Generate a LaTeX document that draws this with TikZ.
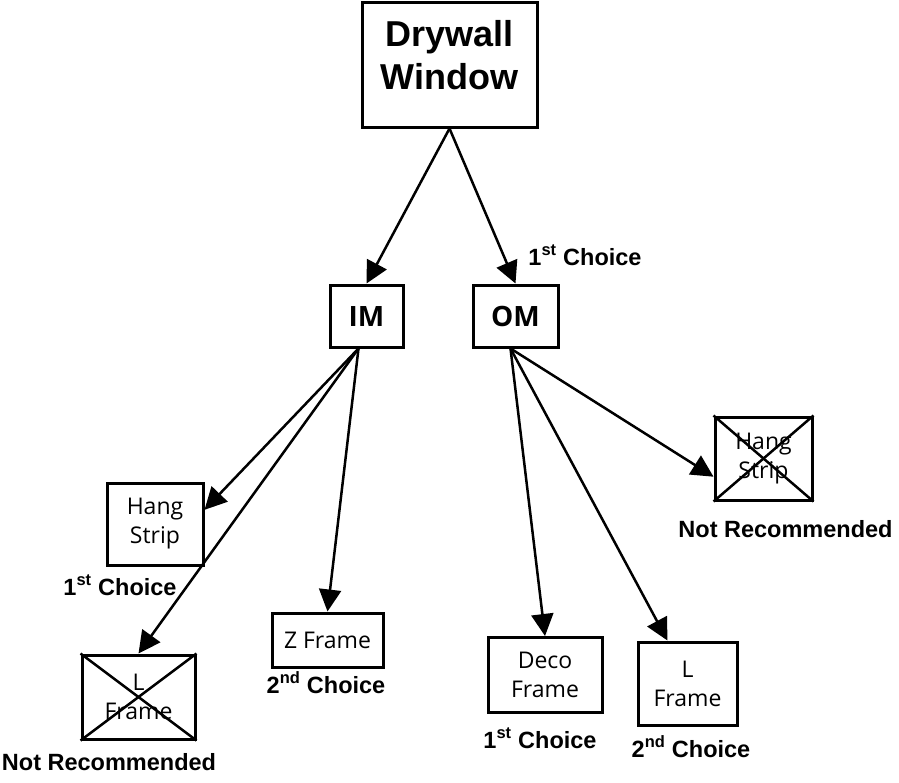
\documentclass[tikz,border=0pt]{standalone}
\usepackage{fontspec}
\newfontfamily\boxfont{Open Sans}
\newfontfamily\labelfont{Liberation Sans}
\usetikzlibrary{arrows.meta}
\tikzset{
  box/.style={draw, line width=3pt, align=center, inner sep=0pt,
    font=\boxfont\fontsize{23}{29}\selectfont},
  mainbox/.style={box, font=\labelfont\bfseries\fontsize{36}{43}\selectfont},
  modebox/.style={box, font=\boxfont\bfseries\fontsize{28}{32}\selectfont},
  choice/.style={anchor=base, font=\labelfont\bfseries\fontsize{23.5}{28}\selectfont},
  branch/.style={line width=2.5pt, -{Triangle[length=22pt,width=22pt]}},
  crossline/.style={line width=2.5pt}
}

\begin{document}
\begin{tikzpicture}[x=1pt,y=-1pt]
      \useasboundingbox (0,0) rectangle (899,782);
      % top of the tree
      \node[mainbox, minimum width=175pt, minimum height=125pt, text depth=20pt] (dw) at (449.5,64.5) {Drywall\\Window};
      \node[modebox, minimum width=73pt, minimum height=62pt] (im) at (366.5,316) {IM};
      \node[modebox, minimum width=85pt, minimum height=62pt] (om) at (515.5,316) {OM};
      % IM side
      \node[box, minimum width=96pt, minimum height=82pt] (hs) at (155,524) {Hang\\Strip};
      \node[box, minimum width=113pt, minimum height=84pt] (lf) at (138.5,697) {L\\Frame};
      \node[box, minimum width=111pt, minimum height=54pt] (zf) at (327.5,640) {Z Frame};
      % OM side
      \node[box, minimum width=114pt, minimum height=75pt] (df) at (545,675) {Deco\\Frame};
      \node[box, minimum width=99pt, minimum height=83pt] (lr) at (687.5,683.5) {L\\Frame};
      \node[box, minimum width=97pt, minimum height=83pt] (hr) at (763.5,458.5) {Hang\\Strip};
      % crossed out boxes
      \draw[crossline] (lf.north west) -- (lf.south east);
      \draw[crossline] (lf.north east) -- (lf.south west);
      \draw[crossline] (hr.north west) -- (hr.south east);
      \draw[crossline] (hr.north east) -- (hr.south west);
      % labels
      \node[choice] (omchoice) at (585,265) {1\textsuperscript{st} Choice};
      \node[choice] (hschoice) at (120,595) {1\textsuperscript{st} Choice};
      \node[choice] (zfchoice) at (326,693) {2\textsuperscript{nd} Choice};
      \node[choice] (lfnot) at (109,770) {Not Recommended};
      \node[choice] (hrnot) at (785.5,537) {Not Recommended};
      \node[choice] (dfchoice) at (540,748) {1\textsuperscript{st} Choice};
      \node[choice] (lrchoice) at (691,757) {2\textsuperscript{nd} Choice};
      % arrows
      \coordinate (imfoot) at ([xshift=-8pt]im.south);
      \coordinate (omfoot) at ([xshift=-5pt]om.south);
      \draw[branch] (dw.south) -- (im.north);
      \draw[branch] (dw.south) -- (om.north);
      \draw[branch] (imfoot) -- (hs.16);
      \draw[branch] (imfoot) -- (lf.north);
      \draw[branch] (imfoot) -- (zf.north);
      \draw[branch] (omfoot) -- (df.north);
      \draw[branch] (omfoot) -- (lr.115);
      \draw[branch] (omfoot) -- (hr.200);
    \end{tikzpicture}
\end{document}
